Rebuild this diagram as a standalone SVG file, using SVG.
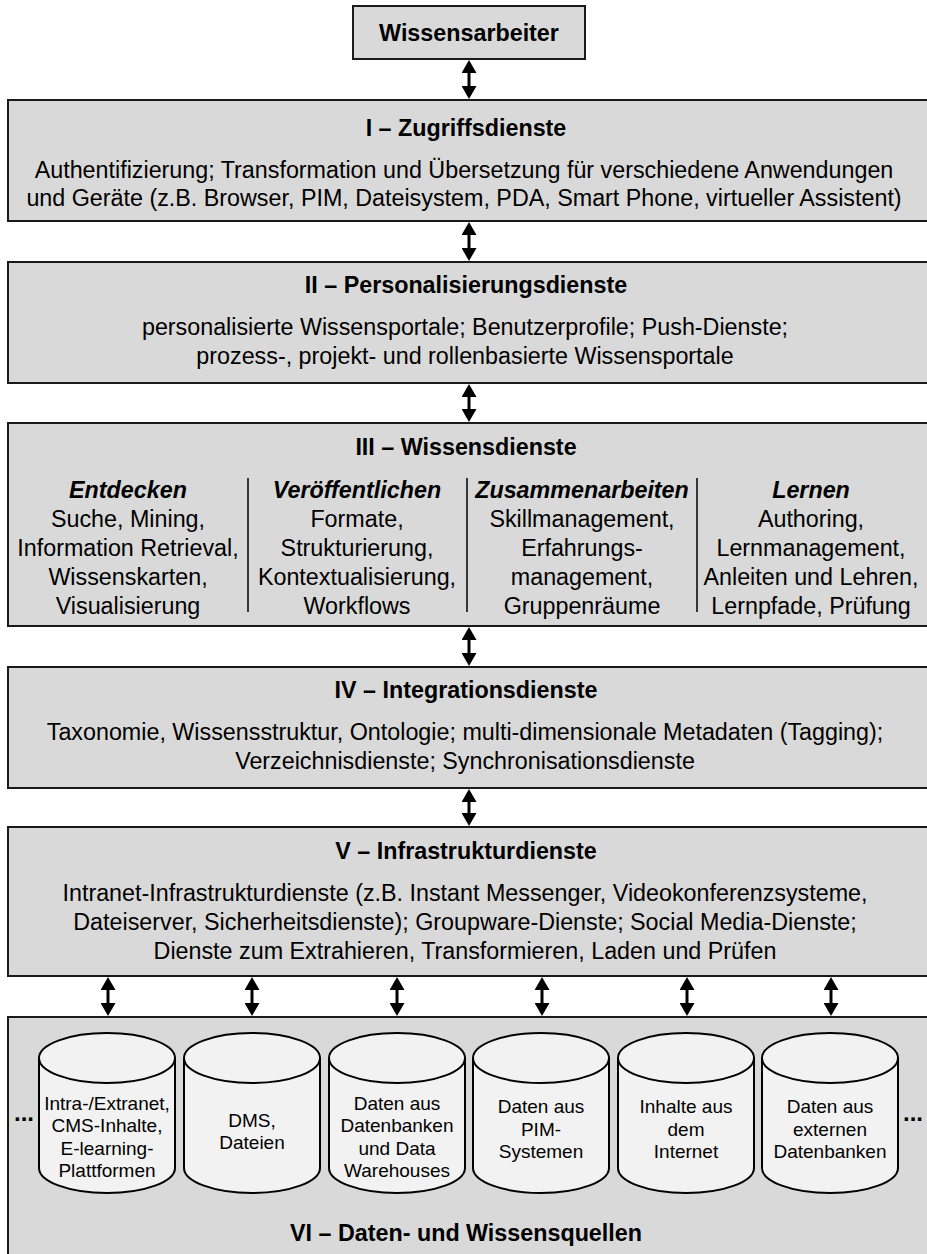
<svg xmlns="http://www.w3.org/2000/svg" width="927" height="1254" viewBox="0 0 927 1254">
<style>
  .box{fill:#d9d9d9;stroke:#1a1a1a;stroke-width:2}
  .cyl{fill:#f2f2f2;stroke:#000;stroke-width:2}
  .t{font-family:"Liberation Sans",Arial,sans-serif;font-size:23.3px;fill:#000;text-anchor:middle}
  .b{font-weight:bold}
  .i{font-weight:bold;font-style:italic}
  .s{font-family:"Liberation Sans",Arial,sans-serif;font-size:19px;fill:#000;text-anchor:middle}
  .div{stroke:#000;stroke-width:1.5}
  .arr{stroke:#000;stroke-width:3;fill:none;marker-start:url(#ah);marker-end:url(#ah)}
</style>
<defs>
  <marker id="ah" viewBox="0 0 13 15" refX="7" refY="7.5" markerWidth="13" markerHeight="15" markerUnits="userSpaceOnUse" orient="auto-start-reverse">
    <path d="M0,0 L13,7.5 L0,15 z" fill="#000"/>
  </marker>
</defs>
<rect width="927" height="1254" fill="#fff"/>

<g id="wissensarbeiter">
  <rect class="box" x="353" y="6" width="232" height="53"/>
  <text class="t b" x="469" y="41">Wissensarbeiter</text>
</g>

<g id="zugriffsdienste">
  <rect class="box" x="8" y="100" width="930" height="121"/>
  <text class="t b" x="466" y="136">I – Zugriffsdienste</text>
  <text class="t" x="464" y="178">Authentifizierung; Transformation und Übersetzung für verschiedene Anwendungen</text>
  <text class="t" x="464" y="206">und Geräte (z.B. Browser, PIM, Dateisystem, PDA, Smart Phone, virtueller Assistent)</text>
</g>

<g id="personalisierungsdienste">
  <rect class="box" x="8" y="262" width="930" height="121"/>
  <text class="t b" x="466" y="293">II – Personalisierungsdienste</text>
  <text class="t" x="465" y="335">personalisierte Wissensportale; Benutzerprofile; Push-Dienste;</text>
  <text class="t" x="465" y="364">prozess-, projekt- und rollenbasierte Wissensportale</text>
</g>

<g id="wissensdienste">
  <rect class="box" x="8" y="423" width="930" height="203"/>
  <text class="t b" x="466" y="455">III – Wissensdienste</text>
  <line class="div" x1="248" y1="478" x2="248" y2="612"/>
  <line class="div" x1="467" y1="478" x2="467" y2="612"/>
  <line class="div" x1="697" y1="478" x2="697" y2="612"/>
  <text class="t i" x="128" y="498">Entdecken</text>
  <text class="t" x="128" y="527">Suche, Mining,</text>
  <text class="t" x="128" y="556">Information Retrieval,</text>
  <text class="t" x="128" y="585">Wissenskarten,</text>
  <text class="t" x="128" y="614">Visualisierung</text>
  <text class="t i" x="357" y="498">Veröffentlichen</text>
  <text class="t" x="357" y="527">Formate,</text>
  <text class="t" x="357" y="556">Strukturierung,</text>
  <text class="t" x="357" y="585">Kontextualisierung,</text>
  <text class="t" x="357" y="614">Workflows</text>
  <text class="t i" x="582" y="498">Zusammenarbeiten</text>
  <text class="t" x="582" y="527">Skillmanagement,</text>
  <text class="t" x="582" y="556">Erfahrungs-</text>
  <text class="t" x="582" y="585">management,</text>
  <text class="t" x="582" y="614">Gruppenräume</text>
  <text class="t i" x="811" y="498">Lernen</text>
  <text class="t" x="811" y="527">Authoring,</text>
  <text class="t" x="811" y="556">Lernmanagement,</text>
  <text class="t" x="811" y="585">Anleiten und Lehren,</text>
  <text class="t" x="811" y="614">Lernpfade, Prüfung</text>
</g>

<g id="integrationsdienste">
  <rect class="box" x="8" y="667" width="930" height="121"/>
  <text class="t b" x="466" y="698">IV – Integrationsdienste</text>
  <text class="t" x="465" y="740">Taxonomie, Wissensstruktur, Ontologie; multi-dimensionale Metadaten (Tagging);</text>
  <text class="t" x="465" y="769">Verzeichnisdienste; Synchronisationsdienste</text>
</g>

<g id="infrastrukturdienste">
  <rect class="box" x="8" y="827" width="930" height="149"/>
  <text class="t b" x="466" y="859">V – Infrastrukturdienste</text>
  <text class="t" x="465" y="901">Intranet-Infrastrukturdienste (z.B. Instant Messenger, Videokonferenzsysteme,</text>
  <text class="t" x="465" y="930">Dateiserver, Sicherheitsdienste); Groupware-Dienste; Social Media-Dienste;</text>
  <text class="t" x="465" y="959">Dienste zum Extrahieren, Transformieren, Laden und Prüfen</text>
</g>

<g id="quellen">
  <rect class="box" x="8" y="1017" width="930" height="250"/>
  <text class="t b" x="466" y="1241">VI – Daten- und Wissensquellen</text>
  <text class="t b" x="24" y="1121" style="font-size:24px">...</text>
  <text class="t b" x="913" y="1121" style="font-size:24px">...</text>
</g>

<g id="cyl1">
  <path class="cyl" d="M39,1058 L39,1168 A68,25 0 0 0 175,1168 L175,1058 z"/>
  <ellipse class="cyl" cx="107" cy="1058" rx="68" ry="25"/>
  <text class="s" x="107" y="1110">Intra-/Extranet,</text>
  <text class="s" x="107" y="1132">CMS-Inhalte,</text>
  <text class="s" x="107" y="1155">E-learning-</text>
  <text class="s" x="107" y="1177">Plattformen</text>
</g>
<g id="cyl2">
  <path class="cyl" d="M184,1058 L184,1168 A68,25 0 0 0 320,1168 L320,1058 z"/>
  <ellipse class="cyl" cx="252" cy="1058" rx="68" ry="25"/>
  <text class="s" x="252" y="1127">DMS,</text>
  <text class="s" x="252" y="1149">Dateien</text>
</g>
<g id="cyl3">
  <path class="cyl" d="M329,1058 L329,1168 A68,25 0 0 0 465,1168 L465,1058 z"/>
  <ellipse class="cyl" cx="397" cy="1058" rx="68" ry="25"/>
  <text class="s" x="397" y="1110">Daten aus</text>
  <text class="s" x="397" y="1132">Datenbanken</text>
  <text class="s" x="397" y="1155">und Data</text>
  <text class="s" x="397" y="1177">Warehouses</text>
</g>
<g id="cyl4">
  <path class="cyl" d="M473,1058 L473,1168 A68,25 0 0 0 609,1168 L609,1058 z"/>
  <ellipse class="cyl" cx="541" cy="1058" rx="68" ry="25"/>
  <text class="s" x="541" y="1113">Daten aus</text>
  <text class="s" x="541" y="1136">PIM-</text>
  <text class="s" x="541" y="1158">Systemen</text>
</g>
<g id="cyl5">
  <path class="cyl" d="M618,1058 L618,1168 A68,25 0 0 0 754,1168 L754,1058 z"/>
  <ellipse class="cyl" cx="686" cy="1058" rx="68" ry="25"/>
  <text class="s" x="686" y="1113">Inhalte aus</text>
  <text class="s" x="686" y="1136">dem</text>
  <text class="s" x="686" y="1158">Internet</text>
</g>
<g id="cyl6">
  <path class="cyl" d="M762,1058 L762,1168 A68,25 0 0 0 898,1168 L898,1058 z"/>
  <ellipse class="cyl" cx="830" cy="1058" rx="68" ry="25"/>
  <text class="s" x="830" y="1113">Daten aus</text>
  <text class="s" x="830" y="1136">externen</text>
  <text class="s" x="830" y="1158">Datenbanken</text>
</g>

<g id="connectors">
  <line class="arr" x1="469" y1="66" x2="469" y2="93"/>
  <line class="arr" x1="469" y1="228" x2="469" y2="255"/>
  <line class="arr" x1="469" y1="390" x2="469" y2="416"/>
  <line class="arr" x1="469" y1="633" x2="469" y2="660"/>
  <line class="arr" x1="469" y1="795" x2="469" y2="820"/>
  <line class="arr" x1="108" y1="983" x2="108" y2="1010"/>
  <line class="arr" x1="252" y1="983" x2="252" y2="1010"/>
  <line class="arr" x1="397" y1="983" x2="397" y2="1010"/>
  <line class="arr" x1="542" y1="983" x2="542" y2="1010"/>
  <line class="arr" x1="687" y1="983" x2="687" y2="1010"/>
  <line class="arr" x1="831" y1="983" x2="831" y2="1010"/>
</g>
</svg>
